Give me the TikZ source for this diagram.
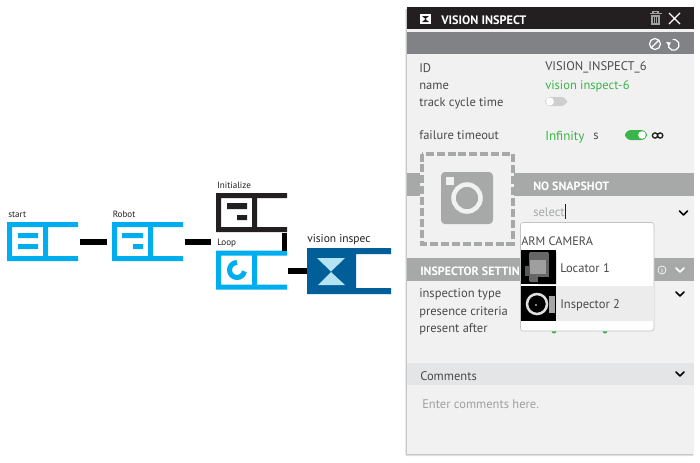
\documentclass[tikz,border=0pt]{standalone}
\usepackage{fontspec}
\setmainfont{PT Sans}
\definecolor{cblue}{HTML}{00AEEF}
\definecolor{dblue}{HTML}{005E99}
\definecolor{lblue}{HTML}{B4E3F4}
\definecolor{blk}{HTML}{231F20}
\definecolor{panel}{HTML}{F1F1F1}
\definecolor{barA}{HTML}{808285}
\definecolor{barB}{HTML}{A7A9A9}
\definecolor{barC}{HTML}{E4E5E6}
\definecolor{txt}{HTML}{4A4A4A}
\definecolor{grn}{HTML}{39B54A}
\definecolor{ghost}{HTML}{A0A0A0}
\newcommand{\fs}[1]{\fontsize{#1}{#1}\selectfont}
\tikzset{
  x=.75pt,y=-.75pt,
  lbl/.style={anchor=west,inner sep=0pt,yshift=-.6pt,text=txt,font=\fs{9.4}},
  hdr/.style={lbl,text=white,font=\fs{9}\bfseries},
  blab/.style={anchor=base west,inner sep=0pt,text=blk,font=\fs{6.8}},
  conn/.style={line width=4.2pt,black},
  chev/.style={line width=1.2pt,line cap=round,line join=round},
  blockarea/.style={inner sep=0pt,minimum width=#1*.75pt,minimum height=29.25pt},
}
% x y colour : C-shaped block 71 x 39 px
\newcommand{\blockshape}[3]{%
  \fill[#3,even odd rule] (#1,#2) rectangle ++(41,39)
    (#1+5,#2+5) rectangle (#1+36,#2+34);
  \fill[#3] (#1+41,#2) rectangle (#1+71,#2+5) (#1+41,#2+34) rectangle (#1+71,#2+39);}
\begin{document}
\begin{tikzpicture}
\useasboundingbox (0,0) rectangle (700,462);
\fill[white] (0,0) rectangle (700,462);
% ---- flow blocks
\blockshape{7}{222}{cblue}
\blockshape{112}{222}{cblue}
\blockshape{216}{193}{blk}
\blockshape{216}{250.5}{cblue}
\node[blockarea=71,anchor=north west] (start) at (7,222) {};
\node[blockarea=71,anchor=north west] (robot) at (112,222) {};
\node[blockarea=71,anchor=north west] (init) at (216,193) {};
\node[blockarea=71,anchor=north west] (loop) at (216,250.5) {};
% start icon
\fill[cblue] (18,233) rectangle (38,238) (18,244) rectangle (38,249);
% robot icon
\fill[cblue] (122,233) rectangle (143,238) (133,244) rectangle (143,249);
% init icon
\fill[blk] (227,203) rectangle (247,209) (237,215) rectangle (247,220);
% loop icon
\draw[cblue,line width=3.8pt] (237,262.5) arc[start angle=-90,end angle=-350,radius=7.5];
% vision block
\fill[dblue] (307,248) rectangle (356,294) (356,248) rectangle (391,254) (356,288) rectangle (391,294);
\node[inner sep=0pt,minimum width=36.75pt,minimum height=34.5pt,anchor=north west] (vision) at (307,248) {};
\fill[lblue] (317,258) -- (345,258) -- (331,271.5) -- cycle (318,285) -- (345,285) -- (331,272) -- cycle;
% labels
\node[blab] (tstart) at (8,217) {start};
\node[blab] (trobot) at (112.5,217) {Robot};
\node[blab] (tinit) at (217,188) {Initialize};
\node[blab] (tloop) at (217,245) {Loop};
\node[blab,font=\fs{8.6}] (tvision) at (307,242) {vision inspec};
% connectors
\draw[conn] ([xshift=.75pt]start.east) -- ([xshift=-3.75pt]robot.west);
\draw[conn] ([xshift=.75pt]robot.east) -- ([xshift=-3.75pt]init.west |- robot.west);
\draw[conn] ([xshift=-2.25pt]init.south east) -- ([xshift=-2.25pt]loop.north east);
\coordinate (loopout) at (288,271);
\draw[conn] (loopout) -- (vision.west |- loopout);
% ---- panel
\fill[black!22] (405.6,9) rectangle (407,455.5) (405.6,454) rectangle (693,455.5);
\fill[black!8] (405,10) rectangle (405.6,456.2) (405,455.5) rectangle (692,456.2);
\fill[panel] (407,7) rectangle (694,454);
\fill[blk] (407,7) rectangle (694,29);
\fill[barA] (407,32) rectangle (694,54);
% header icons
\fill[white] (420,14) rectangle (431,24);
\fill[blk] (422,16) -- (429,16) -- (425.5,19) -- (429,22) -- (422,22) -- (425.5,19) -- cycle;
\node[hdr,font=\fs{9.2}\bfseries] (title) at (441,19) {VISION INSPECT};
\fill[ghost] (651,15) rectangle (660,24.5);
\draw[ghost,line width=.8pt] (649.5,13.5) -- (661.5,13.5) (653,13.5) -- (653,11.8) -- (658,11.8) -- (658,13.5);
\draw[blk,line width=.5pt] (653.5,16.5) -- (653.5,23) (655.5,16.5) -- (655.5,23) (657.5,16.5) -- (657.5,23);
\draw[white,line width=1pt] (669,13) -- (680,24) (680,13) -- (669,24);
\draw[white,line width=.9pt] (655,44) circle (5.5) (651.2,47.8) -- (658.8,40.2);
\draw[white,line width=.9pt] (668.5,43) arc[start angle=-160,end angle=-460,radius=5.5];
\fill[white] (666,42) -- (671,42.5) -- (669,46) -- cycle;
% fields
\node[lbl] (lid) at (419,67) {ID};
\node[lbl] (lname) at (419,85.7) {name};
\node[lbl] (ltrack) at (419,102.7) {track cycle time};
\node[lbl] (lfail) at (419,134.7) {failure timeout};
\node[lbl] (vid) at (545,67) {VISION\_INSPECT\_6};
\node[lbl,text=grn] (vname) at (545,85.7) {vision inspect-6};
\node[lbl,text=grn,font=\fs{9.8}] (vinf) at (545,136) {Infinity};
\node[lbl] (vs) at (593,136) {s};
\fill[barC!90!black,rounded corners=4.5pt] (545,97) rectangle (567,106);
\fill[white] (550,101.5) circle (4);
\fill[grn,rounded corners=4.5pt] (625,130) rectangle (647,140);
\fill[white] (642,135) circle (3.8);
\draw[blk,line width=1pt] (655,135.5) circle (2.6) (660.2,135.5) circle (2.6);
% snapshot band
\fill[barB] (407,173) rectangle (694,196);
\fill[panel] (420,152) rectangle (514,245);
\draw[barB,line width=3pt,dash pattern=on 6pt off 2.2pt] (421.5,153.5) rectangle (512.5,243.5);
\fill[barB,rounded corners=3pt] (441,172) rectangle (493,224);
\draw[panel,line width=3.4pt] (467,198) circle (13.5);
\fill[panel] (446,177) rectangle (454,185);
\node[hdr] (nosnap) at (533,185) {NO SNAPSHOT};
\node[lbl,text=barB] (select) at (533,211) {select};
\draw[blk,line width=.7pt] (565.5,204) -- (565.5,219);
\draw[chev] (679.5,211) -- (683.5,215) -- (687.5,211);
% inspector band
\fill[barB] (407,258) rectangle (694,281);
\node[hdr] (inspset) at (420,270) {INSPECTOR SETTINGS};
\draw[white,line width=.5pt] (662,270) circle (4) (662,268.5) -- (662,272.5);
\draw[chev,white] (676,268) -- (680,272) -- (684,268);
\node[lbl] (linsp) at (419,293.7) {inspection type};
\node[lbl] (lpres) at (419,311.7) {presence criteria};
\node[lbl] (lafter) at (419,328.7) {present after};
\draw[chev] (676,292) -- (680,296) -- (684,292);
\fill[grn] (554,331) circle (2.5) (605,331) circle (2.5);
% dropdown
\filldraw[fill=white,draw=barC!85!black,line width=.5pt,rounded corners=2pt] (520.5,222.5) rectangle (654,331);
\node[lbl,font=\fs{9.2}] (arm) at (521,240) {ARM CAMERA};
\fill[panel!60!barC] (556,286) rectangle (653.5,321);
\fill[black] (521,250) rectangle (556,284);
\fill[gray!80!black,rounded corners=1pt] (529,252) rectangle (549,282);
\fill[gray!75!white] (530,260) rectangle (546,274);
\fill[black!65] (525,266) rectangle (530,276);
\fill[black] (549,252) rectangle (556,284) (538,277) rectangle (549,284);
\fill[black] (521,286) rectangle (556,321);
\draw[white!88!black,line width=1.9pt] (537,304) circle (10);
\fill[gray!70!white] (549,296) rectangle (555,313);
\fill[white] (536,305) circle (.8);
\node[lbl] (loc) at (560,267) {Locator 1};
\node[lbl] (ins) at (560,304) {Inspector 2};
% comments
\fill[barC] (407,363) rectangle (694,385);
\node[lbl] (comm) at (420,375) {Comments};
\draw[chev] (676,372) -- (680,376) -- (684,372);
\node[lbl,text=ghost] (enter) at (422,403) {Enter comments here.};
\end{tikzpicture}
\end{document}
